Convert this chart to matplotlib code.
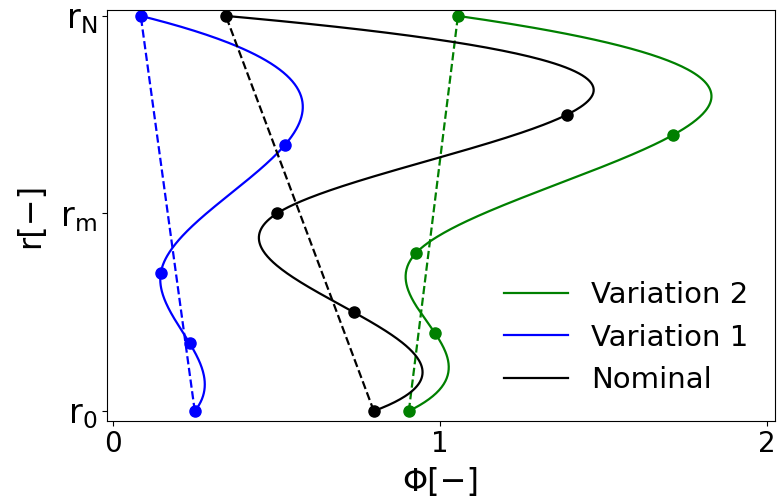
import numpy as np
import matplotlib
matplotlib.use("Agg")
import matplotlib.pyplot as plt

# control points (phi, r)
r_nominal = [0.0, 0.25, 0.5, 0.75, 1.0]
phi_nominal = [0.798, 0.737, 0.502, 1.388, 0.346]

r_var1 = [0.0, 0.172, 0.349, 0.673, 1.0]
phi_var1 = [0.251, 0.235, 0.147, 0.526, 0.086]

r_var2 = [0.0, 0.197, 0.40, 0.699, 1.0]
phi_var2 = [0.905, 0.985, 0.927, 1.713, 1.055]

series = [
    ("Variation 2", r_var2, phi_var2, "green"),
    ("Variation 1", r_var1, phi_var1, "blue"),
    ("Nominal", r_nominal, phi_nominal, "black"),
]


def spline_notaknot(r, phi, n=400):
    # cubic spline phi(r) with not-a-knot ends, solved piece by piece
    x = np.asarray(r, float)
    y = np.asarray(phi, float)
    p = len(x) - 1
    A = np.zeros((4 * p, 4 * p))
    b = np.zeros(4 * p)
    row = 0
    for i in range(p):
        h = x[i + 1] - x[i]
        A[row, 4 * i] = 1.0
        b[row] = y[i]
        row += 1
        A[row, 4 * i:4 * i + 4] = [1.0, h, h ** 2, h ** 3]
        b[row] = y[i + 1]
        row += 1
    for i in range(p - 1):
        h = x[i + 1] - x[i]
        # first derivative
        A[row, 4 * i:4 * i + 4] = [0, 1, 2 * h, 3 * h ** 2]
        A[row, 4 * (i + 1) + 1] = -1
        row += 1
        # second derivative
        A[row, 4 * i:4 * i + 4] = [0, 0, 2, 6 * h]
        A[row, 4 * (i + 1) + 2] = -2
        row += 1
    # not-a-knot at second and second-last knots
    A[row, 3] = 1
    A[row, 7] = -1
    row += 1
    A[row, 4 * (p - 2) + 3] = 1
    A[row, 4 * (p - 1) + 3] = -1
    coef = np.linalg.solve(A, b).reshape(p, 4)
    xx = np.linspace(x[0], x[-1], n)
    k = np.clip(np.searchsorted(x, xx) - 1, 0, p - 1)
    t = xx - x[k]
    c = coef[k]
    yy = c[:, 0] + c[:, 1] * t + c[:, 2] * t ** 2 + c[:, 3] * t ** 3
    return yy, xx


fig = plt.figure(figsize=(7.79, 5), dpi=100)
ax = fig.add_axes([0.137, 0.159, 0.858, 0.821])

for label, r, phi, color in series:
    xs, ys = spline_notaknot(r, phi)
    ax.plot(xs, ys, color=color, lw=1.6, label=label)
    ax.plot(phi, r, "o", color=color, ms=8)
    ax.plot([phi[0], phi[-1]], [r[0], r[-1]], "--", color=color, lw=1.6)

ax.set_xlim(-0.018, 2.024)
ax.set_ylim(-0.024, 1.015)
ax.set_xticks([0, 1, 2])
ax.set_yticks([0, 0.5, 1])
ax.set_yticklabels([r"$\mathregular{r_0}$", r"$\mathregular{r_m}$", r"$\mathregular{r_N}$"])
ax.tick_params(axis="x", labelsize=20)
ax.tick_params(axis="y", labelsize=24)
ax.set_xlabel("Φ[−]", fontsize=23, labelpad=6)
ax.set_ylabel("r[−]", fontsize=23, labelpad=10)
ax.legend(loc="lower right", fontsize=21, frameon=False, handlelength=2.2)

fig.savefig("out.png")
